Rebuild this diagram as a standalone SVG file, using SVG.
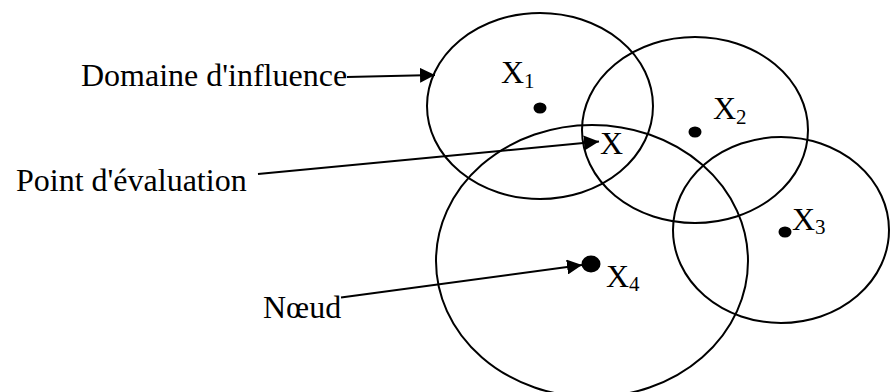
<svg xmlns="http://www.w3.org/2000/svg" width="890" height="392" viewBox="0 0 890 392">
<style>
.dom{fill:none;stroke:#000;stroke-width:2}
.dot{fill:#000}
.t{font-family:"Liberation Serif","Times New Roman",serif;font-size:32px;fill:#000}
.s{font-size:21px}
.c{fill:none;stroke:#000;stroke-width:2}
</style>
<defs>
<marker id="ah" markerUnits="userSpaceOnUse" markerWidth="15" markerHeight="15" refX="15" refY="7.5" orient="auto">
<path d="M0,0 L15,7.5 L0,15 z" fill="#000"/>
</marker>
</defs>
<rect width="890" height="392" fill="#fff"/>
<g id="domain1"><ellipse class="dom" cx="540" cy="106" rx="113" ry="93"/></g>
<g id="domain2"><ellipse class="dom" cx="695" cy="130" rx="113" ry="93"/></g>
<g id="domain3"><ellipse class="dom" cx="781" cy="230" rx="108" ry="93"/></g>
<g id="domain4"><ellipse class="dom" cx="592" cy="261" rx="156" ry="136"/></g>
<g id="x1"><ellipse class="dot" cx="540" cy="108" rx="6.5" ry="5.5"/><text class="t" x="501" y="83">X<tspan class="s" dy="5">1</tspan></text></g>
<g id="x2"><ellipse class="dot" cx="695" cy="132" rx="6.5" ry="5.5"/><text class="t" x="713" y="119">X<tspan class="s" dy="5">2</tspan></text></g>
<g id="x3"><ellipse class="dot" cx="785" cy="232" rx="6.5" ry="5.5"/><text class="t" x="792" y="230">X<tspan class="s" dy="4">3</tspan></text></g>
<g id="x4"><ellipse class="dot" cx="591" cy="264" rx="9.5" ry="8.5"/><text class="t" x="606" y="287">X<tspan class="s" dy="4">4</tspan></text></g>
<g id="x"><text class="t" x="600" y="154">X</text></g>
<g id="label-domaine"><text class="t" x="81" y="86">Domaine d'influence</text></g>
<g id="label-point"><text class="t" x="16" y="191">Point d'évaluation</text></g>
<g id="label-noeud"><text class="t" x="263" y="318">Nœud</text></g>
<g id="connectors">
<line class="c" x1="347" y1="77" x2="435" y2="75" marker-end="url(#ah)"/>
<line class="c" x1="258" y1="174" x2="599" y2="141.5" marker-end="url(#ah)"/>
<line class="c" x1="341" y1="297.5" x2="582" y2="265" marker-end="url(#ah)"/>
</g>
</svg>
